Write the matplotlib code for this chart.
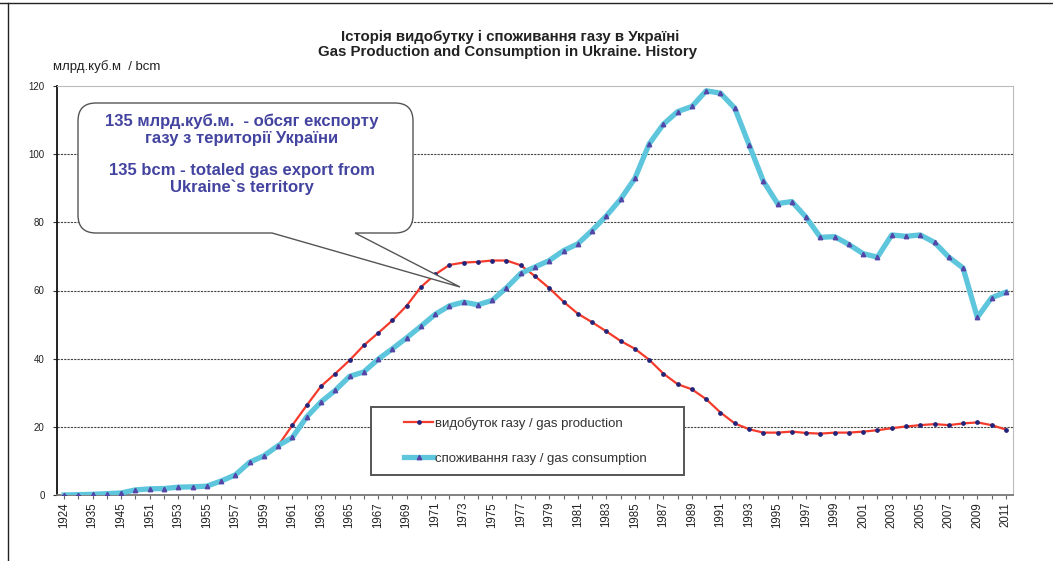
"""
Gas production and consumption in Ukraine, history chart.
"""

import matplotlib
matplotlib.use("Agg")
import matplotlib.pyplot as plt
from matplotlib.path import Path
from matplotlib.patches import PathPatch, Rectangle
from matplotlib.lines import Line2D

plt.rcParams["font.family"] = ["Liberation Sans", "DejaVu Sans"]

# --- data -------------------------------------------------------------
years = ["1924", "1930", "1935", "1940", "1945", "1950"] + [str(y) for y in range(1951, 2012)]

production = [0.0, 0.1, 0.2, 0.4, 0.6, 1.5, 1.8, 1.9, 2.3, 2.4, 2.6, 4.1, 5.9, 9.6, 11.5, 14.5,
              20.5, 26.3, 31.9, 35.6, 39.5, 43.9, 47.5, 51.2, 55.5, 61.0,
              64.7, 67.5, 68.2, 68.4, 68.8, 68.8, 67.4, 64.2, 60.7, 56.7,
              53.2, 50.7, 48.0, 45.2, 42.9, 39.7, 35.6, 32.5, 31.0, 28.1,
              24.2, 21.0, 19.3, 18.3, 18.3, 18.6, 18.2, 18.0, 18.3, 18.3,
              18.6, 19.0, 19.6, 20.1, 20.5, 20.8, 20.5, 21.0, 21.3, 20.5, 19.2]

consumption = [0.0, 0.1, 0.2, 0.4, 0.6, 1.5, 1.8, 1.9, 2.3, 2.4, 2.6, 4.1, 5.9, 9.6, 11.5, 14.5,
               16.9, 22.9, 27.3, 30.7, 34.8, 36.1, 39.8, 42.9, 46.1, 49.5,
               53.0, 55.5, 56.6, 55.8, 57.1, 60.8, 65.0, 66.9, 68.8, 71.7,
               73.7, 77.6, 81.9, 86.8, 92.9, 103.0, 108.8, 112.5, 114.0, 118.6,
               117.9, 113.5, 102.8, 92.1, 85.5, 86.1, 81.5, 75.6, 75.8, 73.5,
               70.8, 69.8, 76.3, 75.9, 76.3, 74.1, 69.8, 66.6, 52.1, 57.9, 59.5]

y_ticks = [0, 20, 40, 60, 80, 100, 120]

title_ua = "Історія видобутку і споживання газу в Україні"
title_en = "Gas Production and Consumption in Ukraine. History"
y_label = "млрд.куб.м  / bcm"
label_prod = "видобуток газу / gas production"
label_cons = "споживання газу / gas consumption"
callout_lines = ["135 млрд.куб.м.  - обсяг експорту", "газу з території України", "",
                 "135 bcm - totaled gas export from", "Ukraine`s territory"]

W, H = 1053, 561


def fx(px):
    return px / W


def fy(py):
    return 1 - py / H


fig = plt.figure(figsize=(W / 100, H / 100), dpi=100)
ax = fig.add_axes([fx(57), fy(495), fx(1013) - fx(57), fy(86) - fy(495)])

x = list(range(len(years)))
ax.plot(x, production, color="#F43B2C", linewidth=1.6, marker="o", markersize=2.4,
        markerfacecolor="#23237A", markeredgecolor="#23237A", zorder=3)
ax.plot(x, consumption, color="#5DC6DC", linewidth=3.8, marker="^", markersize=3.2,
        markerfacecolor="#5446A8", markeredgecolor="#5446A8", zorder=4)

ax.set_xlim(-0.5, len(years) - 0.5)
ax.set_ylim(0, 120)
ax.set_yticks(y_ticks)
ax.set_yticklabels([str(t) for t in y_ticks], fontsize=7, color="#222222")
ax.set_xticks(x)
ax.set_xticklabels([y if i % 2 == 0 else "" for i, y in enumerate(years)],
                   rotation=90, fontsize=8.3, color="#222222")
ax.tick_params(axis="x", length=3, width=0.8, color="#666666", pad=2)
ax.tick_params(axis="y", length=3, width=0.8, color="#333333", pad=6)

for v in y_ticks[1:-1]:
    ax.axhline(v, color="#444444", linewidth=0.8, linestyle=(0, (2, 1)), zorder=1)

ax.spines["left"].set_color("#111111")
ax.spines["left"].set_linewidth(1.3)
ax.spines["bottom"].set_color("#777777")
ax.spines["bottom"].set_linewidth(1.3)
ax.spines["top"].set_color("#BBBBBB")
ax.spines["right"].set_color("#BBBBBB")

# titles
fig.text(fx(510), fy(37), title_ua, ha="center", va="center", fontsize=10.8,
         fontweight="bold", color="#222222")
fig.text(fx(508), fy(52), title_en, ha="center", va="center", fontsize=10.8,
         fontweight="bold", color="#222222")
fig.text(fx(53), fy(67), y_label, ha="left", va="center", fontsize=9.5, color="#222222")

# callout bubble
l, r, t, b, rad = 78, 413, 103, 233, 18
tip = (460, 287)
pts = [
    ((l + rad, t), Path.MOVETO),
    ((r - rad, t), Path.LINETO),
    ((r, t), Path.CURVE3), ((r, t + rad), Path.CURVE3),
    ((r, b - rad), Path.LINETO),
    ((r, b), Path.CURVE3), ((r - rad, b), Path.CURVE3),
    ((355, b), Path.LINETO),
    (tip, Path.LINETO),
    ((272, b), Path.LINETO),
    ((l + rad, b), Path.LINETO),
    ((l, b), Path.CURVE3), ((l, b - rad), Path.CURVE3),
    ((l, t + rad), Path.LINETO),
    ((l, t), Path.CURVE3), ((l + rad, t), Path.CURVE3),
    ((l + rad, t), Path.CLOSEPOLY),
]
verts = [(fx(p[0]), fy(p[1])) for p, _ in pts]
codes = [c for _, c in pts]
bubble = PathPatch(Path(verts, codes), transform=fig.transFigure, facecolor="white",
                   edgecolor="#555555", linewidth=1.0, zorder=5)
fig.add_artist(bubble)

line_y = [121, 138, 154, 170, 187]
for txt, py in zip(callout_lines, line_y):
    if txt:
        fig.text(fx(242), fy(py), txt, ha="center", va="center", fontsize=12,
                 fontweight="bold", color="#4343A0", zorder=6)

# legend box
fig.add_artist(Rectangle((fx(371), fy(475)), fx(684) - fx(371), fy(407) - fy(475),
                         transform=fig.transFigure, facecolor="white",
                         edgecolor="#555555", linewidth=1.4, zorder=5))
handles = [
    Line2D([], [], color="#F43B2C", linewidth=1.6, marker="o", markersize=2.4,
           markerfacecolor="#23237A", markeredgecolor="#23237A"),
    Line2D([], [], color="#5DC6DC", linewidth=3.8, marker="^", markersize=3.2,
           markerfacecolor="#5446A8", markeredgecolor="#5446A8"),
]
leg = fig.legend(handles, [label_prod, label_cons], loc="upper left",
                 bbox_to_anchor=(fx(404), fy(417)), frameon=False, fontsize=9.5,
                 borderpad=0, borderaxespad=0, handlelength=2.2, handletextpad=0.15,
                 labelspacing=1.7, labelcolor="#333333")
leg.set_zorder(6)

# outer frame lines of the original screenshot
fig.add_artist(Line2D([0, 1], [fy(3), fy(3)], transform=fig.transFigure,
                      color="#222222", linewidth=1.0))
fig.add_artist(Line2D([fx(8), fx(8)], [0, fy(3)], transform=fig.transFigure,
                      color="#222222", linewidth=1.0))

fig.savefig("out.png", dpi=100)
